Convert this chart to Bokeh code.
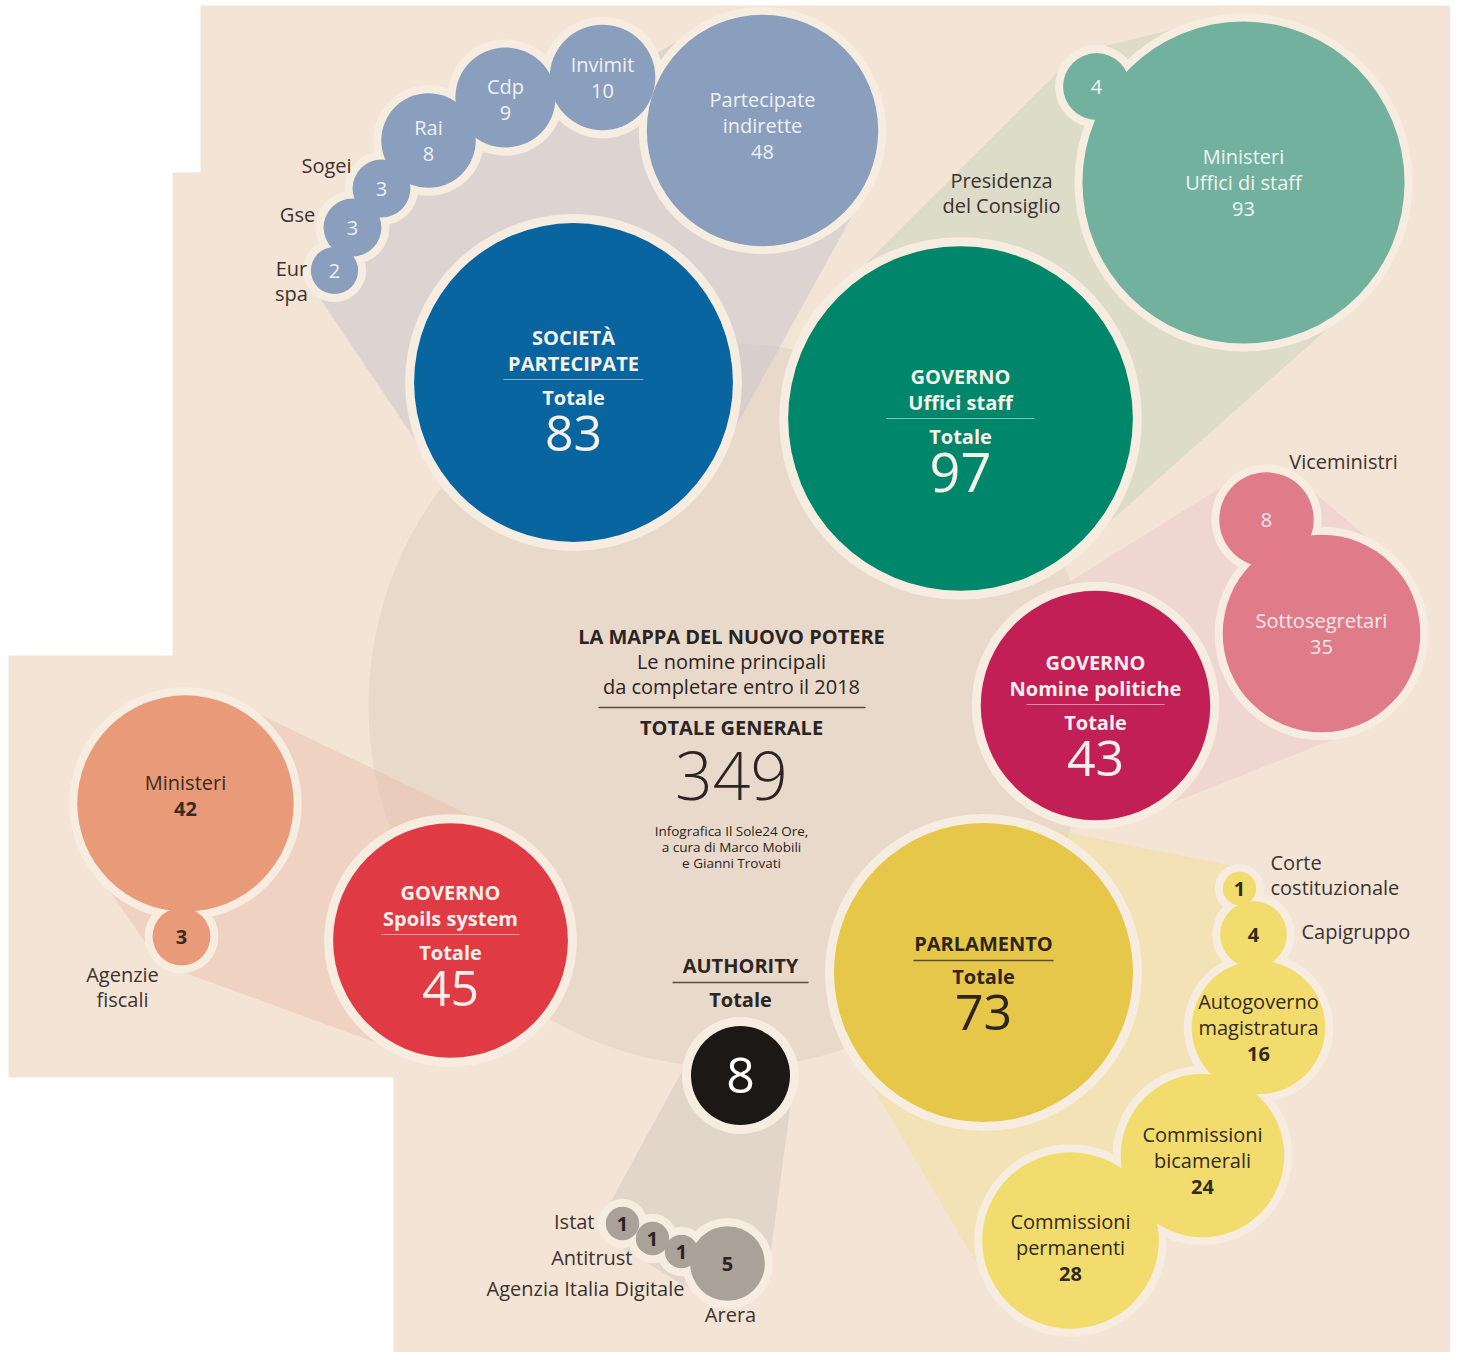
import numpy as np
from bokeh.plotting import figure
from bokeh.models import Range1d, ColumnDataSource
from bokeh.embed import file_html
from bokeh.resources import INLINE
from bokeh.core.properties import value

FONT = "Open Sans"
FONT_LIGHT = "Open Sans Light"

# ------------------------------------------------------------------ data
title = "LA MAPPA DEL NUOVO POTERE"
subtitle = ["Le nomine principali", "da completare entro il 2018"]
total_label = "TOTALE GENERALE"
grand_total = 349
credits = ["Infografica Il Sole24 Ore,", "a cura di Marco Mobili", "e Gianni Trovati"]
totale_word = "Totale"

group_titles = [["SOCIETÀ", "PARTECIPATE"], ["GOVERNO", "Uffici staff"],
                ["GOVERNO", "Nomine politiche"], ["GOVERNO", "Spoils system"],
                ["PARLAMENTO"], ["AUTHORITY"]]
group_totals = [83, 97, 43, 45, 73, 8]

soc_labels = ["Eur\nspa", "Gse", "Sogei", "Rai", "Cdp", "Invimit", "Partecipate\nindirette"]
soc_values = [2, 3, 3, 8, 9, 10, 48]

staff_labels = ["Presidenza\ndel Consiglio", "Ministeri\nUffici di staff"]
staff_values = [4, 93]

nomine_labels = ["Viceministri", "Sottosegretari"]
nomine_values = [8, 35]

spoils_labels = ["Ministeri", "Agenzie\nfiscali"]
spoils_values = [42, 3]

parl_labels = ["Corte\ncostituzionale", "Capigruppo", "Autogoverno\nmagistratura",
               "Commissioni\nbicamerali", "Commissioni\npermanenti"]
parl_values = [1, 4, 16, 24, 28]

auth_labels = ["Istat", "Antitrust", "Agenzia Italia Digitale", "Arera"]
auth_values = [1, 1, 1, 5]

sub_labels = [soc_labels, staff_labels, nomine_labels, spoils_labels, parl_labels, auth_labels]
sub_values = [soc_values, staff_values, nomine_values, spoils_values, parl_values, auth_values]

# ------------------------------------------------------------------ layout / style
W, H = 1450, 1352
MAIN_K = 17.5   # radius scale (px per sqrt unit) for group totals
SUB_K = 16.7    # radius scale for single items
HALO = 9

BG = "#f3e4d6"
HALO_COL = "#f7ece0"
CENTER_COL = "#e9d9ca"
DARK = "#3a3330"
TXT = "20px"

layout = [
    dict(c=(573, 382), col="#0865a0", sub="#8a9fbe", cone="#c8c3cd", txt="#f7f1ea",
         sub_txt="#eef1f6", sub_bold=False, dy=0, num="50px", sep=70,
         xy=[(334, 270), (352, 227), (381, 188), (428, 140), (505, 97), (602, 77), (762, 130)],
         inside=[False, False, False, True, True, True, True],
         out=[(291, 268, "center"), (297, 214, "center"), (326, 165, "center"), None, None, None, None],
         sdy=[0, 0, 0, 0, 2, 0, -5], hull=[0, 6]),
    dict(c=(960, 418), col="#00866a", sub="#72b19e", cone="#c5d3b9", txt="#f4f3ea",
         sub_txt="#eef6f1", sub_bold=False, dy=3, num="54px", sep=74,
         xy=[(1096, 86), (1243, 182)],
         inside=[False, True],
         out=[(1001, 180, "center"), None],
         sdy=[0, 0], hull=[0, 1]),
    dict(c=(1095, 705), col="#c11f55", sub="#e07b8a", cone="#ecc8cc", txt="#f8eeee",
         sub_txt="#f8e8ea", sub_bold=False, dy=2, num="50px", sep=69,
         xy=[(1266, 519), (1321, 633)],
         inside=[False, True],
         out=[(1343, 461, "center"), None],
         sdy=[0, 0], hull=[0, 1]),
    dict(c=(450, 940), col="#e03a44", sub="#e99a78", cone="#ecc0ae", txt="#f8eeea",
         sub_txt="#3a2a22", sub_bold=True, dy=-3, num="50px", sep=69,
         xy=[(185, 803), (181, 936)],
         inside=[True, False],
         out=[None, (122, 974, "center")],
         sdy=[-8, 0], hull=[0, 1]),
    dict(c=(983, 972), col="#e7c74a", sub="#f3dc6e", cone="#f2df95", txt="#2d2620",
         sub_txt="#332a1e", sub_bold=True, dy=0, num="50px", sep=70,
         xy=[(1239, 888), (1253, 934), (1258, 1027), (1202, 1155), (1070, 1240)],
         inside=[False, False, True, True, True],
         out=[(1270, 862, "left"), (1301, 931, "left"), None, None, None],
         sdy=[0, 0, 0, 5, 7], hull=[0, 4]),
    dict(c=(740, 1075), col="#1b1816", sub="#aaa199", cone="#d2c8bd", txt="#ffffff",
         sub_txt="#2a2522", sub_bold=True, dy=0, num="50px", sep=68,
         xy=[(622, 1223), (652, 1238), (681, 1251), (727, 1263)],
         inside=[False, False, False, False],
         out=[(594, 1221, "right"), (632, 1257, "right"), (684, 1288, "right"), (730, 1314, "center")],
         sdy=[0, 0, 0, 0], hull=[0, 3]),
]

CENTER_XY = (730, 705)
CENTER_R = 362


def radius(v, k):
    return k * np.sqrt(v)


def hull(circles, pad=3):
    t = np.linspace(0, 2 * np.pi, 180, endpoint=False)
    pts = []
    for cx, cy, r in circles:
        pts += list(zip(cx + (r + pad) * np.cos(t), cy + (r + pad) * np.sin(t)))
    pts = sorted(set(pts))

    def cross(o, a, b):
        return (a[0] - o[0]) * (b[1] - o[1]) - (a[1] - o[1]) * (b[0] - o[0])

    lower, upper = [], []
    for q in pts:
        while len(lower) >= 2 and cross(lower[-2], lower[-1], q) <= 0:
            lower.pop()
        lower.append(q)
    for q in reversed(pts):
        while len(upper) >= 2 and cross(upper[-2], upper[-1], q) <= 0:
            upper.pop()
        upper.append(q)
    h = lower[:-1] + upper[:-1]
    return [q[0] for q in h], [q[1] for q in h]


# ------------------------------------------------------------------ figure
p = figure(width=W, height=H, x_range=Range1d(0, W), y_range=Range1d(H, 0),
           output_backend="svg", toolbar_location=None, min_border=0,
           x_axis_location=None, y_axis_location=None)
p.grid.visible = False
p.outline_line_color = None
p.background_fill_color = "white"
p.border_fill_color = "white"

# background sheet
p.patch([200, 1450, 1450, 393, 393, 8, 8, 172, 172, 200],
        [5, 5, 1360, 1360, 1077, 1077, 655, 655, 172, 172],
        fill_color=BG, line_color=None)

# central total circle
p.circle(x=[CENTER_XY[0]], y=[CENTER_XY[1]], radius=[CENTER_R], fill_color=CENTER_COL, line_color=None)

# cones
for g, L in enumerate(layout):
    cx, cy = L["c"]
    circ = [(cx, cy, radius(group_totals[g], MAIN_K))]
    for idx in L["hull"]:
        sx, sy = L["xy"][idx]
        circ.append((sx, sy, radius(sub_values[g][idx], SUB_K)))
    hx, hy = hull(circ, pad=4)
    p.patch(hx, hy, fill_color=L["cone"], fill_alpha=0.5, line_color=None)

# halos and bubbles
hx, hy, hr = [], [], []
bx, by, br, bc = [], [], [], []
for g, L in enumerate(layout):
    cx, cy = L["c"]
    r = radius(group_totals[g], MAIN_K)
    hx.append(cx); hy.append(cy); hr.append(r + HALO)
    for (sx, sy), v in zip(L["xy"], sub_values[g]):
        rs = radius(v, SUB_K)
        hx.append(sx); hy.append(sy); hr.append(rs + HALO - 1)
p.circle(x=hx, y=hy, radius=hr, fill_color=HALO_COL, line_color=None)

for g, L in enumerate(layout):
    for (sx, sy), v in zip(L["xy"], sub_values[g]):
        bx.append(sx); by.append(sy); br.append(radius(v, SUB_K)); bc.append(L["sub"])
    cx, cy = L["c"]
    bx.append(cx); by.append(cy); br.append(radius(group_totals[g], MAIN_K)); bc.append(L["col"])
src = ColumnDataSource(dict(x=bx, y=by, r=br, c=bc))
p.circle(x="x", y="y", radius="r", fill_color="c", line_color=None, source=src)

# ------------------------------------------------------------------ texts
texts = []


def T(x, y, s, size=TXT, color=DARK, bold=False, align="center", font=FONT):
    texts.append((x, y, s, size, color, "bold" if bold else "normal", align, font))


seg = []  # x0, y0, x1, y1, color, alpha, width

for g, L in enumerate(layout):
    cx, cy = L["c"]
    titles = group_titles[g]
    tot = str(group_totals[g])
    if len(titles) == 2:
        y0 = cy + L["dy"]
        T(cx, y0 - 45, titles[0], TXT, L["txt"], True)
        T(cx, y0 - 19, titles[1], TXT, L["txt"], True)
        seg.append((cx - L["sep"], y0 - 3, cx + L["sep"], y0 - 3, L["txt"], 0.55, 1.2))
        T(cx, y0 + 15, totale_word, TXT, L["txt"], True)
        T(cx, y0 + 51, tot, L["num"], L["txt"], False)
    elif g == 4:
        T(cx, cy - 29, titles[0], TXT, L["txt"], True)
        seg.append((cx - L["sep"], cy - 12, cx + L["sep"], cy - 12, "#4a3f35", 0.9, 1.3))
        T(cx, cy + 4, totale_word, TXT, L["txt"], True)
        T(cx, cy + 40, tot, L["num"], L["txt"], False)
    else:
        T(cx, cy - 110, titles[0], TXT, "#2d2620", True)
        seg.append((cx - L["sep"], cy - 93, cx + L["sep"], cy - 93, "#4a3f35", 0.9, 1.3))
        T(cx, cy - 76, totale_word, TXT, "#2d2620", True)
        T(cx, cy, tot, L["num"], L["txt"], False)

    for i, ((sx, sy), v, lab) in enumerate(zip(L["xy"], sub_values[g], sub_labels[g])):
        lines = lab.split("\n") if L["inside"][i] else []
        n = len(lines) + 1
        ys = sy + L["sdy"][i] - (n - 1) * 26 / 2
        for j, ln in enumerate(lines):
            T(sx, ys + j * 26, ln, TXT, L["sub_txt"], False)
        T(sx, ys + len(lines) * 26, str(v), TXT, L["sub_txt"], L["sub_bold"])
        if L["out"][i] is not None:
            ox, oy, al = L["out"][i]
            for j, ln in enumerate(lab.split("\n")):
                T(ox, oy + j * 25, ln, TXT, DARK, False, al)

# central block
CX = 731
T(CX, 636, title, TXT, "#2a2522", True)
T(CX, 661, subtitle[0], TXT, "#2a2522")
T(CX, 686, subtitle[1], TXT, "#2a2522")
seg.append((598, 707, 865, 707, "#5a4d42", 1.0, 1.5))
T(CX, 727, total_label, TXT, "#2a2522", True)
T(CX, 775, str(grand_total), "66px", "#2a2522", font=FONT_LIGHT)
for j, ln in enumerate(credits):
    T(CX, 830 + j * 16, ln, "13.5px", "#2a2522")

# separators
for x0, y0, x1, y1, c, a, w in seg:
    p.segment(x0=[x0], y0=[y0], x1=[x1], y1=[y1], line_color=c, line_alpha=a, line_width=w)

# render texts grouped by style
groups = {}
for x, y, s, size, color, style, align, font in texts:
    groups.setdefault((size, color, style, align, font), []).append((x, y, s))
for (size, color, style, align, font), items in groups.items():
    ds = ColumnDataSource(dict(x=[i[0] for i in items], y=[i[1] for i in items], t=[i[2] for i in items]))
    p.text(x="x", y="y", text="t", source=ds, text_font=value(font), text_font_size=size,
           text_color=color, text_font_style=style, text_align=align, text_baseline="middle")

open("out.html", "w").write(file_html(p, INLINE))
